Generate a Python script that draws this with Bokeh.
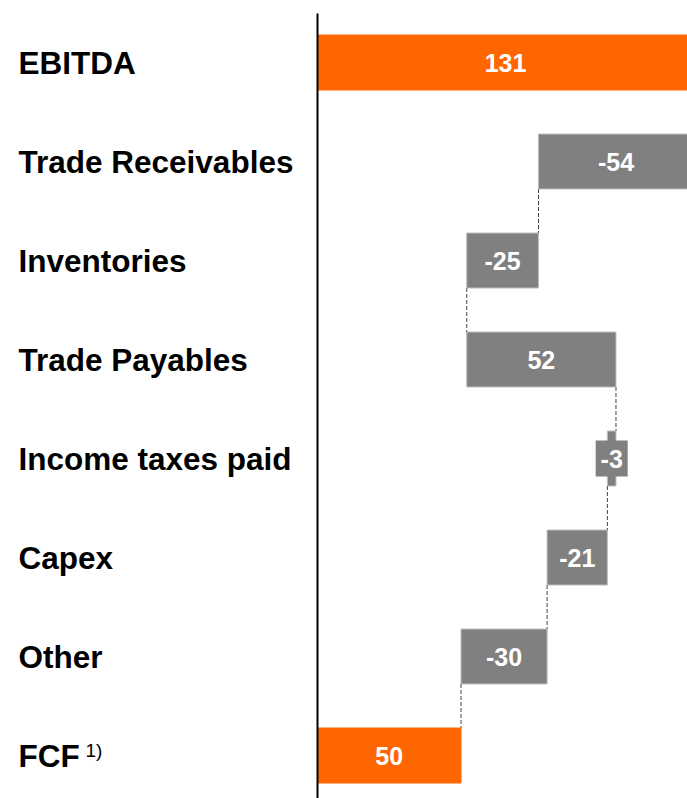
from bokeh.plotting import figure
from bokeh.models import Range1d, ColumnDataSource
from bokeh.core.properties import value
from bokeh.embed import file_html
from bokeh.resources import INLINE

# ---- data ----
categories = ["EBITDA", "Trade Receivables", "Inventories", "Trade Payables",
              "Income taxes paid", "Capex", "Other", "FCF"]
values = [131, -54, -25, 52, -3, -21, -30, 50]
is_total = [True, False, False, False, False, False, False, True]
value_labels = ["131", "-54", "-25", "52", "-3", "-21", "-30", "50"]
footnote = "1)"

ORANGE = "#FF6600"
GRAY = "#808080"
FONT = "Liberation Sans"

# ---- waterfall geometry from the values ----
lefts, rights, running = [], [], 0
for v, tot in zip(values, is_total):
    if tot:
        lo, hi = 0, v
        running = v
    else:
        start = running
        running = running + v
        lo, hi = min(start, running), max(start, running)
    lefts.append(lo)
    rights.append(hi)
rows = list(range(len(categories)))
centers = [(a + b) / 2 for a, b in zip(lefts, rights)]
colors = [ORANGE if t else GRAY for t in is_total]
lines = ["#FF6600" if t else "#BDBDBD" for t in is_total]

W, H = 687, 798
scale = 2.87            # px per unit
axis_px = 317           # frame x of zero line
x0 = -axis_px / scale
x1 = (W - axis_px) / scale
row_px = 99.0
first_px = 62.0         # frame y of first row center
y_top = -first_px / row_px
y_bot = (H - first_px) / row_px
bar_h = 55 / row_px

p = figure(width=W, height=H, output_backend="svg", toolbar_location=None,
           x_range=Range1d(x0, x1), y_range=Range1d(y_bot, y_top),
           min_border=0, min_border_left=0, min_border_right=0,
           min_border_top=0, min_border_bottom=0)
p.xaxis.visible = False
p.yaxis.visible = False
p.xgrid.visible = False
p.ygrid.visible = False
p.outline_line_color = None

src = ColumnDataSource(dict(left=lefts, right=rights, y=rows, color=colors,
                            line=lines, cx=centers, lab=value_labels,
                            cat=categories))

# connectors
cx, cy0, cy1 = [], [], []
running = 0
for i, v in enumerate(values[:-1]):
    running = v if is_total[i] else running + v
    cx.append(running)
    cy0.append(i + bar_h / 2)
    cy1.append(i + 1 - bar_h / 2)
p.segment(x0=cx, y0=cy0, x1=cx, y1=cy1, line_color="#404040",
          line_width=1, line_dash="4 2")

p.hbar(y="y", left="left", right="right", height=bar_h, fill_color="color",
       line_color="line", line_width=1, source=src)

# label box for very small bar
small = [i for i, v in enumerate(values) if abs(v) < 5]
p.rect(x=[centers[i] for i in small], y=[rows[i] for i in small],
       width=32, height=36, width_units="screen", height_units="screen",
       fill_color=GRAY, line_color=None)

# zero axis line
p.segment(x0=[0], y0=[y_top + 13 / row_px], x1=[0], y1=[y_bot],
          line_color="black", line_width=2)

# value labels
p.text(x="cx", y="y", text="lab", source=src, text_color="white",
       text_font=value(FONT), text_font_style="bold", text_font_size="25px",
       text_align="center", text_baseline="middle")

# category labels
lx = x0 + 18 / scale
p.text(x=[lx] * len(rows), y=rows, text=categories, text_color="black",
       text_font=value(FONT), text_font_style="bold", text_font_size="31.5px",
       text_align="left", text_baseline="middle")

# footnote marker after FCF
p.text(x=[x0 + 85 / scale], y=[rows[-1] - 5 / row_px], text=[footnote],
       text_color="black", text_font=value(FONT), text_font_size="19px",
       text_align="left", text_baseline="middle")

open("out.html", "w").write(file_html(p, INLINE))
